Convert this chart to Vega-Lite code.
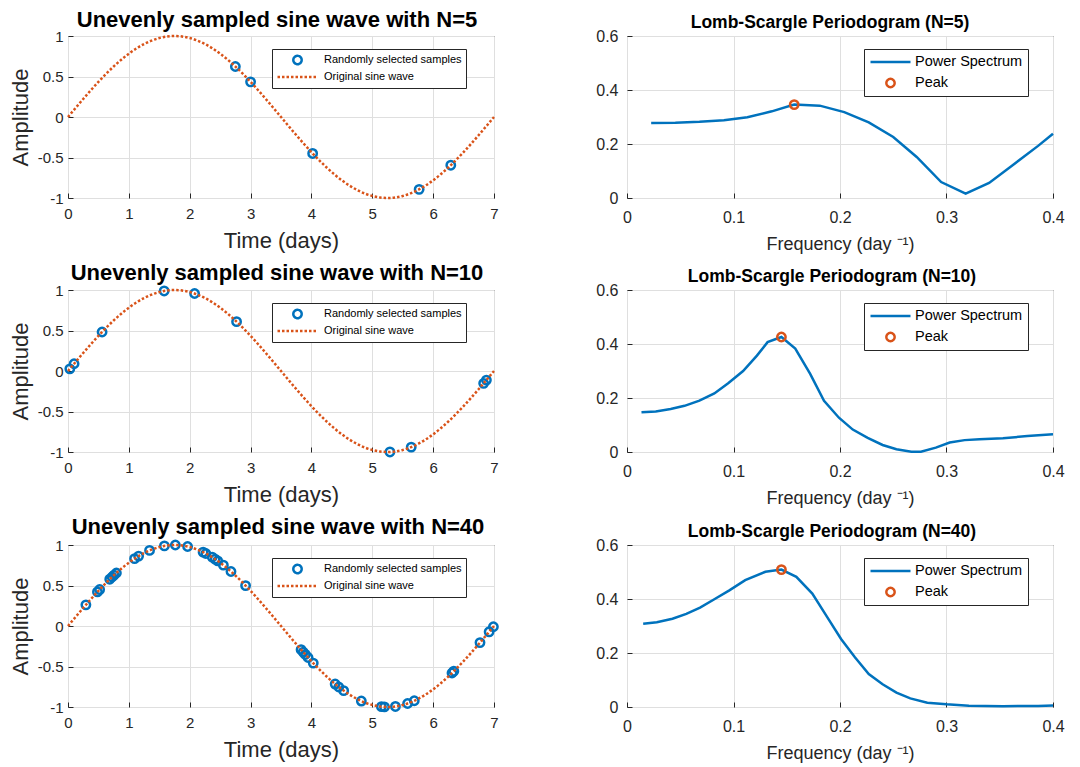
{
  "$schema": "https://vega.github.io/schema/vega-lite/v6.json",
  "padding": {"left": 8, "top": 8, "right": 5, "bottom": 5},
  "background": "white",
  "datasets": {
    "sine": [
      {"t":0,"v":0},{"t":0.125,"v":0.112},{"t":0.25,"v":0.2225},{"t":0.375,"v":0.3303},{"t":0.5,"v":0.4339},{"t":0.625,"v":0.532},{"t":0.75,"v":0.6235},{"t":0.875,"v":0.7071},
      {"t":1,"v":0.7818},{"t":1.125,"v":0.8467},{"t":1.25,"v":0.901},{"t":1.375,"v":0.9439},{"t":1.5,"v":0.9749},{"t":1.625,"v":0.9937},{"t":1.75,"v":1},{"t":1.875,"v":0.9937},
      {"t":2,"v":0.9749},{"t":2.125,"v":0.9439},{"t":2.25,"v":0.901},{"t":2.375,"v":0.8467},{"t":2.5,"v":0.7818},{"t":2.625,"v":0.7071},{"t":2.75,"v":0.6235},{"t":2.875,"v":0.532},
      {"t":3,"v":0.4339},{"t":3.125,"v":0.3303},{"t":3.25,"v":0.2225},{"t":3.375,"v":0.112},{"t":3.5,"v":0},{"t":3.625,"v":-0.112},{"t":3.75,"v":-0.2225},{"t":3.875,"v":-0.3303},
      {"t":4,"v":-0.4339},{"t":4.125,"v":-0.532},{"t":4.25,"v":-0.6235},{"t":4.375,"v":-0.7071},{"t":4.5,"v":-0.7818},{"t":4.625,"v":-0.8467},{"t":4.75,"v":-0.901},{"t":4.875,"v":-0.9439},
      {"t":5,"v":-0.9749},{"t":5.125,"v":-0.9937},{"t":5.25,"v":-1},{"t":5.375,"v":-0.9937},{"t":5.5,"v":-0.9749},{"t":5.625,"v":-0.9439},{"t":5.75,"v":-0.901},{"t":5.875,"v":-0.8467},
      {"t":6,"v":-0.7818},{"t":6.125,"v":-0.7071},{"t":6.25,"v":-0.6235},{"t":6.375,"v":-0.532},{"t":6.5,"v":-0.4339},{"t":6.625,"v":-0.3303},{"t":6.75,"v":-0.2225},{"t":6.875,"v":-0.112},{"t":7,"v":0}
    ],
    "s5": [
      {"t":2.75,"v":0.6235},{"t":3.0,"v":0.4339},{"t":4.02,"v":-0.45},{"t":5.77,"v":-0.893},{"t":6.29,"v":-0.595}
    ],
    "s10": [
      {"t":0.03,"v":0.027},{"t":0.1,"v":0.0896},{"t":0.56,"v":0.4818},{"t":1.58,"v":0.9883},{"t":2.08,"v":0.9565},
      {"t":2.77,"v":0.6093},{"t":5.29,"v":-0.9993},{"t":5.64,"v":-0.9394},{"t":6.83,"v":-0.152},{"t":6.875,"v":-0.112}
    ],
    "s40": [
      {"t":0.294,"v":0.2609},{"t":0.484,"v":0.4209},{"t":0.52,"v":0.45},{"t":0.686,"v":0.5776},{"t":0.724,"v":0.6051},
      {"t":0.757,"v":0.6284},{"t":0.795,"v":0.6547},{"t":1.094,"v":0.8315},{"t":1.16,"v":0.8632},{"t":1.34,"v":0.933},
      {"t":1.584,"v":0.9888},{"t":1.764,"v":0.9999},{"t":1.965,"v":0.9813},{"t":2.22,"v":0.9119},{"t":2.265,"v":0.8952},
      {"t":2.37,"v":0.8495},{"t":2.417,"v":0.8261},{"t":2.46,"v":0.8036},{"t":2.553,"v":0.7513},{"t":2.678,"v":0.6727},
      {"t":2.918,"v":0.4989},{"t":3.83,"v":-0.2919},{"t":3.865,"v":-0.3218},{"t":3.9,"v":-0.3513},{"t":3.945,"v":-0.3889},
      {"t":4.03,"v":-0.458},{"t":4.39,"v":-0.7165},{"t":4.45,"v":-0.753},{"t":4.53,"v":-0.7982},{"t":4.82,"v":-0.9265},
      {"t":5.15,"v":-0.996},{"t":5.2,"v":-0.999},{"t":5.38,"v":-0.9933},{"t":5.58,"v":-0.9565},{"t":5.69,"v":-0.9232},
      {"t":6.31,"v":-0.5805},{"t":6.34,"v":-0.5582},{"t":6.77,"v":-0.205},{"t":6.92,"v":-0.0717},{"t":6.99,"v":-0.009}
    ],
    "p5": [
      {"f":0.0227,"p":0.278},{"f":0.0454,"p":0.279},{"f":0.068,"p":0.282},{"f":0.091,"p":0.288},{"f":0.113,"p":0.299},
      {"f":0.136,"p":0.321},{"f":0.157,"p":0.346},{"f":0.181,"p":0.342},{"f":0.204,"p":0.318},{"f":0.227,"p":0.28},
      {"f":0.25,"p":0.226},{"f":0.272,"p":0.152},{"f":0.295,"p":0.059},{"f":0.318,"p":0.016},{"f":0.34,"p":0.056},
      {"f":0.363,"p":0.124},{"f":0.386,"p":0.193},{"f":0.4,"p":0.238}
    ],
    "p10": [
      {"f":0.0136,"p":0.147},{"f":0.027,"p":0.15},{"f":0.041,"p":0.159},{"f":0.054,"p":0.171},{"f":0.068,"p":0.19},
      {"f":0.082,"p":0.217},{"f":0.095,"p":0.255},{"f":0.109,"p":0.3},{"f":0.122,"p":0.357},{"f":0.132,"p":0.407},
      {"f":0.145,"p":0.426},{"f":0.158,"p":0.383},{"f":0.172,"p":0.289},{"f":0.185,"p":0.19},{"f":0.199,"p":0.127},
      {"f":0.212,"p":0.083},{"f":0.226,"p":0.052},{"f":0.24,"p":0.026},{"f":0.253,"p":0.01},{"f":0.267,"p":0.001},
      {"f":0.276,"p":0.001},{"f":0.29,"p":0.016},{"f":0.303,"p":0.035},{"f":0.317,"p":0.044},{"f":0.331,"p":0.047},
      {"f":0.353,"p":0.051},{"f":0.376,"p":0.059},{"f":0.4,"p":0.066}
    ],
    "p40": [
      {"f":0.0152,"p":0.308},{"f":0.028,"p":0.314},{"f":0.0427,"p":0.327},{"f":0.0557,"p":0.345},{"f":0.0686,"p":0.368},
      {"f":0.0816,"p":0.398},{"f":0.0961,"p":0.432},{"f":0.111,"p":0.47},{"f":0.13,"p":0.501},{"f":0.145,"p":0.509},
      {"f":0.159,"p":0.482},{"f":0.174,"p":0.42},{"f":0.188,"p":0.333},{"f":0.201,"p":0.252},{"f":0.214,"p":0.184},
      {"f":0.227,"p":0.122},{"f":0.24,"p":0.084},{"f":0.253,"p":0.053},{"f":0.266,"p":0.032},{"f":0.282,"p":0.016},
      {"f":0.3,"p":0.01},{"f":0.321,"p":0.005},{"f":0.353,"p":0.003},{"f":0.386,"p":0.004},{"f":0.4,"p":0.006}
    ],
    "k5": [{"f":0.157,"p":0.346}],
    "k10": [{"f":0.145,"p":0.426}],
    "k40": [{"f":0.145,"p":0.509}]
  },
  "config": {
    "font": "Liberation Sans",
    "view": {"stroke": "#262626", "strokeWidth": 1},
    "axis": {
      "domain": false, "grid": true, "gridColor": "#dfdfdf", "gridWidth": 1,
      "ticks": true, "tickColor": "#262626", "tickSize": -5, "tickWidth": 1,
      "labelColor": "#262626", "titleColor": "#262626", "titleFontWeight": "normal",
      "labelFont": "Liberation Sans", "titleFont": "Liberation Sans",
      "labelFlush": false, "labelOverlap": false
    },
    "legend": {
      "labelFont": "Liberation Sans", "labelColor": "#000000", "strokeColor": "#262626",
      "fillColor": "white", "symbolStrokeWidth": 2.5, "orient": "none"
    },
    "title": {
      "font": "Liberation Sans", "fontWeight": "bold", "color": "#000000",
      "frame": "group", "anchor": "middle", "baseline": "alphabetic", "offset": -3
    }
  },
  "resolve": {
    "scale": {"color": "independent", "shape": "independent", "size": "independent", "strokeDash": "independent"},
    "legend": {"color": "independent", "shape": "independent", "size": "independent", "strokeDash": "independent"}
  },
  "columns": 2,
  "spacing": {"row": 7, "column": 91},
  "concat": [
    {
      "width": 426, "height": 162,
      "title": {"text": "Unevenly sampled sine wave with N=5", "fontSize": 22, "dx": -4},
      "layer": [
        {
          "data": {"name": "s5"},
          "mark": {"type": "point", "filled": false, "strokeWidth": 2.5, "opacity": 1},
          "encoding": {
            "x": {"field": "t", "type": "quantitative", "scale": {"domain": [0, 7], "nice": false, "zero": false},
              "axis": {"title": "Time (days)", "values": [0,1,2,3,4,5,6,7], "labelFontSize": 15, "titleFontSize": 22, "labelPadding": 13, "titlePadding": 9, "labelExpr": "'' + datum.value"}},
            "y": {"field": "v", "type": "quantitative", "scale": {"domain": [-1, 1], "nice": false, "zero": false},
              "axis": {"title": "Amplitude", "values": [-1,-0.5,0,0.5,1], "labelFontSize": 15, "titleFontSize": 22, "labelPadding": 10, "titlePadding": 5, "labelExpr": "'' + datum.value"}},
            "color": {"datum": "Randomly selected samples", "type": "nominal",
              "scale": {"domain": ["Randomly selected samples", "Original sine wave"], "range": ["#0072BD", "#D95319"]},
              "legend": {"title": null, "orient": "none", "legendX": 204, "legendY": 13, "padding": 4, "labelFontSize": 11, "labelOffset": 5, "clipHeight": 14, "rowPadding": 3}},
            "shape": {"datum": "Randomly selected samples", "type": "nominal",
              "scale": {"domain": ["Randomly selected samples", "Original sine wave"], "range": ["circle", "stroke"]}},
            "size": {"datum": "Randomly selected samples", "type": "nominal",
              "scale": {"domain": ["Randomly selected samples", "Original sine wave"], "range": [70, 1600]}}
          }
        },
        {
          "data": {"name": "sine"},
          "mark": {"type": "line", "strokeWidth": 2.5, "interpolate": "monotone"},
          "encoding": {
            "x": {"field": "t", "type": "quantitative"},
            "y": {"field": "v", "type": "quantitative"},
            "color": {"datum": "Original sine wave", "type": "nominal"},
            "strokeDash": {"datum": "Original sine wave", "type": "nominal",
              "scale": {"domain": ["Randomly selected samples", "Original sine wave"], "range": [[1, 0], [2.5, 2]]}}
          }
        }
      ]
    },
    {
      "width": 426, "height": 162,
      "title": {"text": "Lomb-Scargle Periodogram (N=5)", "fontSize": 17.5, "dx": -10},
      "layer": [
        {
          "data": {"name": "p5"},
          "mark": {"type": "line", "strokeWidth": 2.5},
          "encoding": {
            "x": {"field": "f", "type": "quantitative", "scale": {"domain": [0, 0.4], "nice": false, "zero": false},
              "axis": {"title": "Frequency (day ⁻¹)", "values": [0,0.1,0.2,0.3,0.4], "labelFontSize": 16, "titleFontSize": 18, "labelPadding": 16, "titlePadding": 10, "labelExpr": "'' + datum.value"}},
            "y": {"field": "p", "type": "quantitative", "scale": {"domain": [0, 0.6], "nice": false},
              "axis": {"title": null, "values": [0,0.2,0.4,0.6], "labelFontSize": 16, "labelPadding": 14, "labelExpr": "'' + datum.value"}},
            "color": {"datum": "Power Spectrum", "type": "nominal",
              "scale": {"domain": ["Power Spectrum", "Peak"], "range": ["#0072BD", "#D95319"]},
              "legend": {"title": null, "orient": "none", "legendX": 237, "legendY": 13, "padding": 5, "labelFontSize": 14.5, "labelOffset": 3, "clipHeight": 16, "rowPadding": 5}}
          }
        },
        {
          "data": {"name": "k5"},
          "mark": {"type": "point", "filled": false, "strokeWidth": 2.5, "opacity": 1},
          "encoding": {
            "x": {"field": "f", "type": "quantitative"},
            "y": {"field": "p", "type": "quantitative"},
            "color": {"datum": "Peak", "type": "nominal"},
            "shape": {"datum": "Peak", "type": "nominal",
              "scale": {"domain": ["Power Spectrum", "Peak"], "range": ["stroke", "circle"]}},
            "size": {"datum": "Peak", "type": "nominal",
              "scale": {"domain": ["Power Spectrum", "Peak"], "range": [1600, 70]}}
          }
        }
      ]
    },
    {
      "width": 426, "height": 162,
      "title": {"text": "Unevenly sampled sine wave with N=10", "fontSize": 22, "dx": -4},
      "layer": [
        {
          "data": {"name": "s10"},
          "mark": {"type": "point", "filled": false, "strokeWidth": 2.5, "opacity": 1},
          "encoding": {
            "x": {"field": "t", "type": "quantitative", "scale": {"domain": [0, 7], "nice": false, "zero": false},
              "axis": {"title": "Time (days)", "values": [0,1,2,3,4,5,6,7], "labelFontSize": 15, "titleFontSize": 22, "labelPadding": 13, "titlePadding": 9, "labelExpr": "'' + datum.value"}},
            "y": {"field": "v", "type": "quantitative", "scale": {"domain": [-1, 1], "nice": false, "zero": false},
              "axis": {"title": "Amplitude", "values": [-1,-0.5,0,0.5,1], "labelFontSize": 15, "titleFontSize": 22, "labelPadding": 10, "titlePadding": 5, "labelExpr": "'' + datum.value"}},
            "color": {"datum": "Randomly selected samples", "type": "nominal",
              "scale": {"domain": ["Randomly selected samples", "Original sine wave"], "range": ["#0072BD", "#D95319"]},
              "legend": {"title": null, "orient": "none", "legendX": 204, "legendY": 13, "padding": 4, "labelFontSize": 11, "labelOffset": 5, "clipHeight": 14, "rowPadding": 3}},
            "shape": {"datum": "Randomly selected samples", "type": "nominal",
              "scale": {"domain": ["Randomly selected samples", "Original sine wave"], "range": ["circle", "stroke"]}},
            "size": {"datum": "Randomly selected samples", "type": "nominal",
              "scale": {"domain": ["Randomly selected samples", "Original sine wave"], "range": [70, 1600]}}
          }
        },
        {
          "data": {"name": "sine"},
          "mark": {"type": "line", "strokeWidth": 2.5, "interpolate": "monotone"},
          "encoding": {
            "x": {"field": "t", "type": "quantitative"},
            "y": {"field": "v", "type": "quantitative"},
            "color": {"datum": "Original sine wave", "type": "nominal"},
            "strokeDash": {"datum": "Original sine wave", "type": "nominal",
              "scale": {"domain": ["Randomly selected samples", "Original sine wave"], "range": [[1, 0], [2.5, 2]]}}
          }
        }
      ]
    },
    {
      "width": 426, "height": 162,
      "title": {"text": "Lomb-Scargle Periodogram (N=10)", "fontSize": 17.5, "dx": -8},
      "layer": [
        {
          "data": {"name": "p10"},
          "mark": {"type": "line", "strokeWidth": 2.5},
          "encoding": {
            "x": {"field": "f", "type": "quantitative", "scale": {"domain": [0, 0.4], "nice": false, "zero": false},
              "axis": {"title": "Frequency (day ⁻¹)", "values": [0,0.1,0.2,0.3,0.4], "labelFontSize": 16, "titleFontSize": 18, "labelPadding": 16, "titlePadding": 10, "labelExpr": "'' + datum.value"}},
            "y": {"field": "p", "type": "quantitative", "scale": {"domain": [0, 0.6], "nice": false},
              "axis": {"title": null, "values": [0,0.2,0.4,0.6], "labelFontSize": 16, "labelPadding": 14, "labelExpr": "'' + datum.value"}},
            "color": {"datum": "Power Spectrum", "type": "nominal",
              "scale": {"domain": ["Power Spectrum", "Peak"], "range": ["#0072BD", "#D95319"]},
              "legend": {"title": null, "orient": "none", "legendX": 237, "legendY": 13, "padding": 5, "labelFontSize": 14.5, "labelOffset": 3, "clipHeight": 16, "rowPadding": 5}}
          }
        },
        {
          "data": {"name": "k10"},
          "mark": {"type": "point", "filled": false, "strokeWidth": 2.5, "opacity": 1},
          "encoding": {
            "x": {"field": "f", "type": "quantitative"},
            "y": {"field": "p", "type": "quantitative"},
            "color": {"datum": "Peak", "type": "nominal"},
            "shape": {"datum": "Peak", "type": "nominal",
              "scale": {"domain": ["Power Spectrum", "Peak"], "range": ["stroke", "circle"]}},
            "size": {"datum": "Peak", "type": "nominal",
              "scale": {"domain": ["Power Spectrum", "Peak"], "range": [1600, 70]}}
          }
        }
      ]
    },
    {
      "width": 426, "height": 162,
      "title": {"text": "Unevenly sampled sine wave with N=40", "fontSize": 22, "dx": -3},
      "layer": [
        {
          "data": {"name": "s40"},
          "mark": {"type": "point", "filled": false, "strokeWidth": 2.5, "opacity": 1},
          "encoding": {
            "x": {"field": "t", "type": "quantitative", "scale": {"domain": [0, 7], "nice": false, "zero": false},
              "axis": {"title": "Time (days)", "values": [0,1,2,3,4,5,6,7], "labelFontSize": 15, "titleFontSize": 22, "labelPadding": 13, "titlePadding": 9, "labelExpr": "'' + datum.value"}},
            "y": {"field": "v", "type": "quantitative", "scale": {"domain": [-1, 1], "nice": false, "zero": false},
              "axis": {"title": "Amplitude", "values": [-1,-0.5,0,0.5,1], "labelFontSize": 15, "titleFontSize": 22, "labelPadding": 10, "titlePadding": 5, "labelExpr": "'' + datum.value"}},
            "color": {"datum": "Randomly selected samples", "type": "nominal",
              "scale": {"domain": ["Randomly selected samples", "Original sine wave"], "range": ["#0072BD", "#D95319"]},
              "legend": {"title": null, "orient": "none", "legendX": 204, "legendY": 13, "padding": 4, "labelFontSize": 11, "labelOffset": 5, "clipHeight": 14, "rowPadding": 3}},
            "shape": {"datum": "Randomly selected samples", "type": "nominal",
              "scale": {"domain": ["Randomly selected samples", "Original sine wave"], "range": ["circle", "stroke"]}},
            "size": {"datum": "Randomly selected samples", "type": "nominal",
              "scale": {"domain": ["Randomly selected samples", "Original sine wave"], "range": [70, 1600]}}
          }
        },
        {
          "data": {"name": "sine"},
          "mark": {"type": "line", "strokeWidth": 2.5, "interpolate": "monotone"},
          "encoding": {
            "x": {"field": "t", "type": "quantitative"},
            "y": {"field": "v", "type": "quantitative"},
            "color": {"datum": "Original sine wave", "type": "nominal"},
            "strokeDash": {"datum": "Original sine wave", "type": "nominal",
              "scale": {"domain": ["Randomly selected samples", "Original sine wave"], "range": [[1, 0], [2.5, 2]]}}
          }
        }
      ]
    },
    {
      "width": 426, "height": 162,
      "title": {"text": "Lomb-Scargle Periodogram (N=40)", "fontSize": 17.5, "dx": -8},
      "layer": [
        {
          "data": {"name": "p40"},
          "mark": {"type": "line", "strokeWidth": 2.5},
          "encoding": {
            "x": {"field": "f", "type": "quantitative", "scale": {"domain": [0, 0.4], "nice": false, "zero": false},
              "axis": {"title": "Frequency (day ⁻¹)", "values": [0,0.1,0.2,0.3,0.4], "labelFontSize": 16, "titleFontSize": 18, "labelPadding": 16, "titlePadding": 10, "labelExpr": "'' + datum.value"}},
            "y": {"field": "p", "type": "quantitative", "scale": {"domain": [0, 0.6], "nice": false},
              "axis": {"title": null, "values": [0,0.2,0.4,0.6], "labelFontSize": 16, "labelPadding": 14, "labelExpr": "'' + datum.value"}},
            "color": {"datum": "Power Spectrum", "type": "nominal",
              "scale": {"domain": ["Power Spectrum", "Peak"], "range": ["#0072BD", "#D95319"]},
              "legend": {"title": null, "orient": "none", "legendX": 237, "legendY": 13, "padding": 5, "labelFontSize": 14.5, "labelOffset": 3, "clipHeight": 16, "rowPadding": 5}}
          }
        },
        {
          "data": {"name": "k40"},
          "mark": {"type": "point", "filled": false, "strokeWidth": 2.5, "opacity": 1},
          "encoding": {
            "x": {"field": "f", "type": "quantitative"},
            "y": {"field": "p", "type": "quantitative"},
            "color": {"datum": "Peak", "type": "nominal"},
            "shape": {"datum": "Peak", "type": "nominal",
              "scale": {"domain": ["Power Spectrum", "Peak"], "range": ["stroke", "circle"]}},
            "size": {"datum": "Peak", "type": "nominal",
              "scale": {"domain": ["Power Spectrum", "Peak"], "range": [1600, 70]}}
          }
        }
      ]
    }
  ]
}
